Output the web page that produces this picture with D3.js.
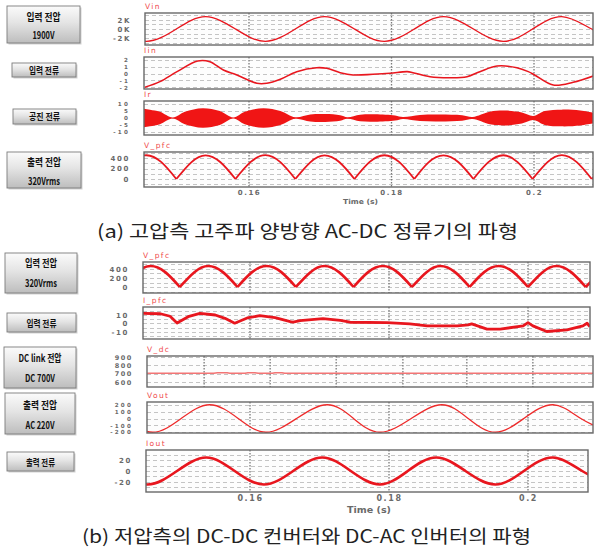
<!DOCTYPE html>
<html>
<head>
<meta charset="utf-8">
<script src="https://cdn.jsdelivr.net/npm/d3@7"></script>
<style>
  body { margin: 0; background: #fff; }
  svg { display: block; }
</style>
</head>
<body>
<div id="chart"></div>
<script>
const timeTicks = [0.16, 0.18, 0.2];
const timeTickLabels = ["0.16", "0.18", "0.2"];

// (a) high voltage side
const vinTime  = [0.1414, 0.1456, 0.1498, 0.1539, 0.1581, 0.1623, 0.1665, 0.1706, 0.1748, 0.1790, 0.1832, 0.1873, 0.1915, 0.1957, 0.1998, 0.2039, 0.2081, 0.2123];
const vinValue = [0, -2700, 0, 2700, 0, -2700, 0, 2700, 0, -2700, 0, 2700, 0, -2700, 0, 2700, 0, -2700];
const vinTicks = [2000, 0, -2000];
const vinTickLabels = ["2K", "0K", "-2K"];

const iinTime  = [0.1454, 0.1475, 0.1499, 0.1528, 0.1545, 0.1564, 0.1583, 0.1611, 0.1625, 0.1644, 0.1667, 0.1695, 0.1709, 0.1728, 0.1746, 0.1774, 0.1798, 0.1822, 0.1830, 0.1854, 0.1882, 0.1906, 0.1924, 0.1948, 0.1976, 0.1992, 0.2001, 0.2027, 0.2055, 0.2083];
const iinValue = [-2.0, -1.17, 0.3, 1.86, 1.76, 0.54, -0.19, -1.41, -1.41, -0.82, 0.3, 0.88, 0.79, 0.15, -0.19, -0.09, 0.06, 0.3, 0.15, -0.44, -0.59, -0.44, 0.3, 1.13, 0.88, 0.3, -0.19, -1.66, -1.26, -0.34];
const iinTicks = [2, 1, 0, -1, -2];

const irTime     = [0.1451, 0.1461, 0.1475, 0.1493, 0.1510, 0.1535, 0.1559, 0.1578, 0.1594, 0.1620, 0.1644, 0.1665, 0.1686, 0.1707, 0.1728, 0.1738, 0.1756, 0.1777, 0.1805, 0.1816, 0.1840, 0.1868, 0.1899, 0.1914, 0.1938, 0.1959, 0.1983, 0.1999, 0.2015, 0.2039, 0.2065, 0.2083];
const irEnvelope = [6.8, 6.0, 4.5, 0.4, 4.5, 7.0, 5.0, 0.4, 4.5, 7.0, 5.0, 0.5, 2.5, 2.8, 2.0, 0.6, 2.4, 2.7, 1.8, 0.7, 2.2, 2.5, 2.0, 0.8, 4.5, 5.3, 4.0, 1.5, 5.0, 6.0, 5.4, 3.8];
const irTicks = [10, 5, 0, -5, -10];

const vpfcTopTime  = [0.1414, 0.1435, 0.1456, 0.1477, 0.1498, 0.1519, 0.1539, 0.1560, 0.1581, 0.1602, 0.1623, 0.1644, 0.1665, 0.1686, 0.1706, 0.1727, 0.1748, 0.1769, 0.1790, 0.1811, 0.1832, 0.1852, 0.1873, 0.1894, 0.1915, 0.1936, 0.1957, 0.1977, 0.1998, 0.2019, 0.2039, 0.2060, 0.2081, 0.2102];
const vpfcTopValue = [0, 320, 452, 320, 0, 318, 450, 318, 0, 320, 453, 320, 0, 318, 450, 318, 0, 320, 452, 320, 0, 318, 450, 318, 0, 320, 452, 320, 0, 320, 454, 320, 0, 320];
const vpfcTicks = [400, 200, 0];

// (b) low voltage side
const vpfcTime  = [0.1416, 0.1437, 0.1457, 0.1478, 0.1499, 0.1520, 0.1540, 0.1561, 0.1582, 0.1603, 0.1624, 0.1645, 0.1666, 0.1687, 0.1707, 0.1728, 0.1749, 0.1770, 0.1791, 0.1812, 0.1833, 0.1854, 0.1874, 0.1895, 0.1916, 0.1937, 0.1958, 0.1979, 0.2000, 0.2021, 0.2041, 0.2062, 0.2083, 0.2104];
const vpfcValue = [0, 330, 465, 330, 0, 330, 466, 330, 0, 330, 465, 330, 0, 330, 466, 330, 0, 330, 465, 330, 0, 330, 466, 330, 0, 330, 465, 330, 0, 330, 466, 330, 0, 330];

const ipfcTime  = [0.1446, 0.1471, 0.1485, 0.1495, 0.1511, 0.1528, 0.1550, 0.1564, 0.1578, 0.1596, 0.1614, 0.1636, 0.1658, 0.1662, 0.1672, 0.1705, 0.1730, 0.1744, 0.1797, 0.1830, 0.1855, 0.1898, 0.1914, 0.1919, 0.1941, 0.1960, 0.1993, 0.2000, 0.2007, 0.2027, 0.2056, 0.2079, 0.2085, 0.2089];
const ipfcValue = [12, 11.5, 8.5, 0.5, 8, 12, 10, 6, 0.3, 6.5, 9.2, 7, 2.1, 1.5, 3.3, 5.6, 3.5, 1.4, 0.9, -0.6, -2.9, -2.9, -1.8, -0.6, -6.8, -6.8, -2.9, 0.9, -2.9, -9.6, -7.6, -2.9, 0.2, -3.8];
const ipfcTicks = [10, 0, -10];

const vdcTime  = [0.1452, 0.1548, 0.1553, 0.1567, 0.1571, 0.1593, 0.1597, 0.1607, 0.1612, 0.1632, 0.1636, 0.1646, 0.1650, 0.2094];
const vdcValue = [705, 705, 711, 711, 705, 705, 711, 711, 705, 705, 711, 711, 705, 705];
const vdcGridTimes = [0.1534, 0.1629, 0.1724, 0.1820, 0.1912, 0.2007];
const vdcTicks = [900, 800, 700, 600];

const voutTime  = [0.1420, 0.1460, 0.1501, 0.1542, 0.1583, 0.1623, 0.1667, 0.1711, 0.1749, 0.1787, 0.1832, 0.1876, 0.1914, 0.1953, 0.1994, 0.2036, 0.2076, 0.2117];
const voutValue = [0, -205, 0, 205, 0, -205, 0, 205, 0, -205, 0, 205, 0, -205, 0, 205, 0, -205];
const voutTicks = [200, 100, 0, -100, -200];

const ioutTime  = [0.1412, 0.1453, 0.1495, 0.1537, 0.1578, 0.1620, 0.1662, 0.1704, 0.1745, 0.1787, 0.1827, 0.1868, 0.1910, 0.1953, 0.1994, 0.2036, 0.2078, 0.2119];
const ioutValue = [0, -24.5, 0, 24.5, 0, -24.5, 0, 24.5, 0, -24.5, 0, 24.5, 0, -24.5, 0, 24.5, 0, -24.5];
const ioutTicks = [20, 0, -20];

const boxLabels = [
  ["입력 전압", "1900V"], ["입력 전류"], ["공진 전류"], ["출력 전압", "320Vrms"],
  ["입력 전압", "320Vrms"], ["입력 전류"], ["DC link 전압", "DC 700V"], ["출력 전압", "AC 220V"], ["출력 전류"]
];
const captions = ["(a) 고압측 고주파 양방향 AC-DC 정류기의 파형", "(b) 저압측의 DC-DC 컨버터와 DC-AC 인버터의 파형"];

// ---- layout ----
const width = 594, height = 550;
const red = "#e8161e";

const svg = d3.select("#chart").append("svg")
    .attr("width", width)
    .attr("height", height);
const defs = svg.append("defs");

const grad = defs.append("linearGradient").attr("id", "btn").attr("x1", 0).attr("y1", 0).attr("x2", 0).attr("y2", 1);
grad.append("stop").attr("offset", "0%").attr("stop-color", "#fbfbfb");
grad.append("stop").attr("offset", "45%").attr("stop-color", "#e4e4e4");
grad.append("stop").attr("offset", "100%").attr("stop-color", "#bdbdbd");

// time scales for the two captures
const xTop = d3.scaleLinear().domain([0.16, 0.2]).range([249, 534]);
const xBot = d3.scaleLinear().domain([0.16, 0.2]).range([250, 528]);

const lineOf = (x, y, curve) => d3.line().x(d => x(d[0])).y(d => y(d[1])).curve(curve);
const zip = (a, b) => a.map((t, i) => [t, b[i]]);

// split a rectified wave into arches at its cusps
function arches(times, values) {
    let out = [], cur = [];
    times.forEach((t, i) => {
        cur.push([t, values[i]]);
        if (i > 0 && i < times.length - 1 && values[i] < values[i - 1] && values[i] < values[i + 1]) {
            out.push(cur);
            cur = [[t, values[i]]];
        }
    });
    out.push(cur);
    return out;
}

function drawLine(times, values, curve, color, w) {
    return (g, x, y) => g.append("path")
        .attr("d", lineOf(x, y, curve)(zip(times, values)))
        .attr("fill", "none").attr("stroke", color).attr("stroke-width", w)
        .attr("stroke-linejoin", "round");
}

function drawArches(times, values, w) {
    return (g, x, y) => g.selectAll("path.arch")
        .data(arches(times, values))
        .join("path").attr("class", "arch")
        .attr("d", lineOf(x, y, d3.curveNatural))
        .attr("fill", "none").attr("stroke", red).attr("stroke-width", w);
}

const panels = [
    {title: "Vin", x: xTop, x0: 145, x1: 593, y0: 13, y1: 45, domain: [-3500, 3500], grid: 1000, tf: 7,
     ticks: vinTicks, labels: vinTickLabels, draw: drawLine(vinTime, vinValue, d3.curveNatural, red, 1.4)},
    {title: "Iin", x: xTop, x0: 144, x1: 593, y0: 57, y1: 89, domain: [-2.25, 2.45], grid: 1, tf: 5.6,
     ticks: iinTicks, draw: drawLine(iinTime, iinValue, d3.curveCatmullRom, red, 1.6)},
    {title: "Ir", x: xTop, x0: 144, x1: 593, y0: 101, y1: 135, domain: [-12.2, 12.2], grid: 5, tf: 5.6,
     ticks: irTicks, draw: (g, x, y) => g.append("path")
        .attr("d", d3.area().x(d => x(d[0])).y0(d => y(-d[1])).y1(d => y(d[1]))
            .curve(d3.curveCatmullRom)(zip(irTime, irEnvelope)))
        .attr("fill", "#f01515")},
    {title: "V_pfc", x: xTop, x0: 144, x1: 593, y0: 152, y1: 187, domain: [-152, 514], grid: 100, tf: 7,
     ticks: vpfcTicks, draw: drawArches(vpfcTopTime, vpfcTopValue, 1.8),
     axis: 194, axisTitle: 202, axisSize: 7, titleX: 343, titleLen: 35},

    {title: "V_pfc", x: xBot, x0: 143, x1: 590, y0: 262, y1: 293, domain: [-133, 555], grid: 100, tf: 7,
     ticks: vpfcTicks, draw: drawArches(vpfcTime, vpfcValue, 2.6)},
    {title: "I_pfc", x: xBot, x0: 143, x1: 590, y0: 307, y1: 339, domain: [-18.5, 19.5], grid: 5, tf: 7,
     ticks: ipfcTicks, draw: drawLine(ipfcTime, ipfcValue, d3.curveLinear, red, 2.8)},
    {title: "V_dc", x: xBot, x0: 147, x1: 593, y0: 356, y1: 387, domain: [542, 911], grid: 100, tf: 6.5,
     ticks: vdcTicks, vgrid: vdcGridTimes, draw: drawLine(vdcTime, vdcValue, d3.curveLinear, "#f27474", 1.6)},
    {title: "Vout", x: xBot, x0: 147, x1: 593, y0: 402, y1: 433, domain: [-216, 246], grid: 100, tf: 5.6,
     ticks: voutTicks, draw: drawLine(voutTime, voutValue, d3.curveNatural, "#ee2a2a", 1.3)},
    {title: "Iout", x: xBot, x0: 146, x1: 588, y0: 450, y1: 492, domain: [-38.2, 38.2], grid: 10, tf: 7,
     ticks: ioutTicks, draw: drawLine(ioutTime, ioutValue, d3.curveNatural, red, 2.6),
     axis: 499, axisTitle: 510, axisSize: 8, titleX: 347, titleLen: 44}
];

const tickFont = "DejaVu Sans";

panels.forEach((p, i) => {
    const g = svg.append("g");
    const y = d3.scaleLinear().domain(p.domain).range([p.y1, p.y0]);

    g.append("rect")
        .attr("x", p.x0).attr("y", p.y0)
        .attr("width", p.x1 - p.x0).attr("height", p.y1 - p.y0)
        .attr("fill", "#fdfdfd");

    // dashed horizontal grid
    const gv = d3.range(Math.ceil(p.domain[0] / p.grid) * p.grid, p.domain[1], p.grid);
    g.selectAll("line.hg").data(gv).join("line").attr("class", "hg")
        .attr("x1", p.x0).attr("x2", p.x1)
        .attr("y1", d => Math.round(y(d)) + 0.5).attr("y2", d => Math.round(y(d)) + 0.5)
        .attr("stroke", "#c4c4c4").attr("stroke-dasharray", "4,3");

    // dotted time grid
    g.selectAll("line.vg").data(p.vgrid || timeTicks).join("line").attr("class", "vg")
        .attr("x1", d => p.x(d)).attr("x2", d => p.x(d))
        .attr("y1", p.y0).attr("y2", p.y1)
        .attr("stroke", "#7a7a7a").attr("stroke-width", 1.3).attr("stroke-dasharray", "1.5,1.5");

    defs.append("clipPath").attr("id", "clip" + i).append("rect")
        .attr("x", p.x0).attr("y", p.y0).attr("width", p.x1 - p.x0).attr("height", p.y1 - p.y0);
    p.draw(g.append("g").attr("clip-path", `url(#clip${i})`), p.x, y);

    g.append("rect")
        .attr("x", p.x0).attr("y", p.y0)
        .attr("width", p.x1 - p.x0).attr("height", p.y1 - p.y0)
        .attr("fill", "none").attr("stroke", "#686868").attr("stroke-width", 1.4);

    // value axis
    const ax = d3.axisLeft(y).tickValues(p.ticks)
        .tickFormat((d, k) => p.labels ? p.labels[k] : d)
        .tickSize(0).tickPadding(0);
    g.append("g")
        .attr("transform", `translate(${p.x0 - 14},0)`)
        .call(ax)
        .call(s => s.select(".domain").remove())
        .attr("font-family", tickFont).attr("font-size", p.tf).attr("font-weight", "bold")
        .selectAll("text").attr("fill", "#6a6a6a").attr("letter-spacing", p.tf < 6 ? 2.2 : 1.6);

    g.append("text")
        .attr("x", p.x0).attr("y", p.y0 - 7)
        .attr("dominant-baseline", "central")
        .attr("font-family", tickFont).attr("font-size", 7.5)
        .attr("letter-spacing", 1.4)
        .attr("fill", "#f04a4a")
        .text(p.title);

    // time axis under the last panel of each capture
    if (p.axis) {
        const tx = d3.axisBottom(p.x).tickValues(timeTicks)
            .tickFormat((d, k) => timeTickLabels[k]).tickSize(0).tickPadding(0);
        g.append("g")
            .attr("transform", `translate(0,${p.axis - 4})`)
            .call(tx)
            .call(s => s.select(".domain").remove())
            .attr("font-family", tickFont).attr("font-size", p.axisSize).attr("font-weight", "bold")
            .selectAll("text").attr("fill", "#6a6a6a").attr("letter-spacing", 1.6);
        g.append("text")
            .attr("x", p.titleX)
            .attr("y", p.axisTitle)
            .attr("dominant-baseline", "central")
            .attr("font-family", tickFont).attr("font-size", p.axisSize).attr("font-weight", "bold")
            .attr("fill", "#6a6a6a")
            .attr("textLength", p.titleLen).attr("lengthAdjust", "spacingAndGlyphs")
            .text("Time (s)");
    }
});

// label buttons on the left
const boxLayout = [
    {x: 7, y: 6, w: 73, h: 37, lines: [{y: 16.5, w: 34, s: 10.5}, {y: 34, w: 22, s: 10.5}]},
    {x: 12, y: 63, w: 64, h: 14, lines: [{y: 70, w: 30, s: 9}]},
    {x: 13, y: 109, w: 63, h: 15, lines: [{y: 116.5, w: 31, s: 9}]},
    {x: 7, y: 152, w: 74, h: 36, lines: [{y: 161, w: 34, s: 10.5}, {y: 180, w: 32, s: 10.5}]},
    {x: 5, y: 253, w: 72, h: 40, lines: [{y: 262, w: 32, s: 10.5}, {y: 282, w: 32, s: 10.5}]},
    {x: 7, y: 313, w: 69, h: 19, lines: [{y: 322.5, w: 30, s: 9.5}]},
    {x: 4, y: 347, w: 72, h: 41, lines: [{y: 357, w: 43, s: 10.5}, {y: 377, w: 30, s: 10.5}]},
    {x: 5, y: 393, w: 70, h: 41, lines: [{y: 404, w: 34, s: 10.5}, {y: 424, w: 29, s: 10.5}]},
    {x: 7, y: 452, w: 67, h: 19, lines: [{y: 461.5, w: 29, s: 9.5}]}
];

boxLayout.forEach((b, i) => {
    const g = svg.append("g");
    g.append("rect")
        .attr("x", b.x + 1.5).attr("y", b.y + 1.5).attr("width", b.w).attr("height", b.h)
        .attr("fill", "#9a9a9a").attr("opacity", 0.45);
    g.append("rect")
        .attr("x", b.x).attr("y", b.y).attr("width", b.w).attr("height", b.h)
        .attr("fill", "url(#btn)").attr("stroke", "#7c7c7c").attr("stroke-width", 0.9);
    b.lines.forEach((l, k) => {
        g.append("text")
            .attr("x", b.x + b.w / 2).attr("y", l.y)
            .attr("text-anchor", "middle").attr("dominant-baseline", "central")
            .attr("font-family", "Noto Sans CJK KR").attr("font-weight", "bold")
            .attr("font-size", l.s).attr("fill", "#111")
            .attr("textLength", l.w).attr("lengthAdjust", "spacingAndGlyphs")
            .text(boxLabels[i][k]);
    });
});

// captions
const captionLayout = [{x0: 97, x1: 518, y: 230}, {x0: 82, x1: 531, y: 535}];
captionLayout.forEach((c, i) => {
    svg.append("text")
        .attr("x", c.x0).attr("y", c.y)
        .attr("dominant-baseline", "central")
        .attr("font-family", "Noto Sans CJK KR").attr("font-size", 18)
        .attr("fill", "#222")
        .attr("textLength", c.x1 - c.x0).attr("lengthAdjust", "spacingAndGlyphs")
        .text(captions[i]);
});
</script>
</body>
</html>
